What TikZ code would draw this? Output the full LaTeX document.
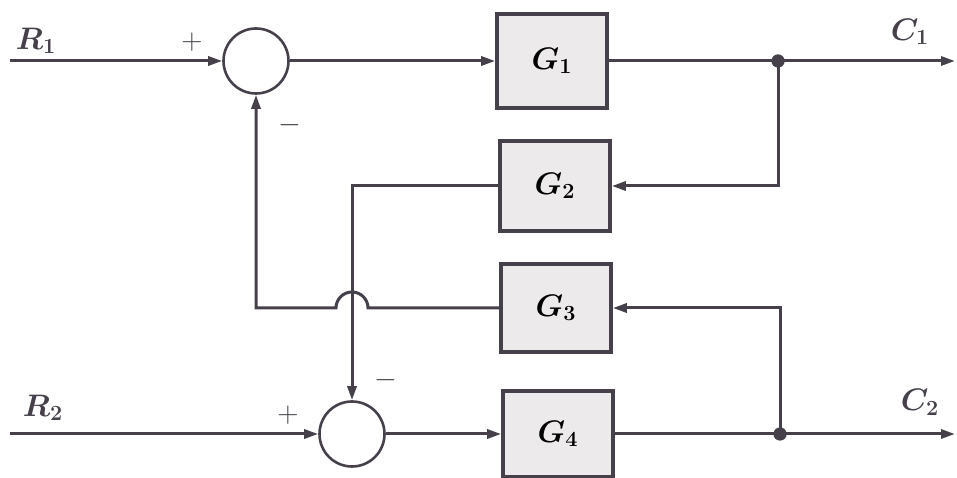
\documentclass[tikz,border=0pt]{standalone}
\usepackage{graphicx}
\usetikzlibrary{arrows.meta}
\definecolor{ln}{HTML}{46404A}
\definecolor{bx}{HTML}{ECEAEA}
\newcommand{\biglab}[1]{\scalebox{1.8}{\LARGE\boldmath$#1$}}
\newcommand{\sgn}[1]{\scalebox{1.7}{\LARGE$#1$}}
\begin{document}
\begin{tikzpicture}[x=1pt,y=1pt,
  blk/.style={draw=ln,line width=3.6pt,fill=bx,minimum width=110pt,minimum height=90pt,inner sep=0pt},
  sumj/.style={draw=ln,line width=2.6pt,circle,minimum size=65pt,inner sep=0pt},
  conn/.style={draw=ln,line width=3pt},
  arr/.style={conn,-{Triangle[length=14pt,width=9pt]}},
  dotn/.style={circle,fill=ln,minimum size=13pt,inner sep=0pt},
  lbl/.style={text=ln}]
\useasboundingbox (0,0) rectangle (957,478);
\node[sumj] (s1) at (256,417) {};
\node[sumj] (s2) at (352,44) {};
\node[blk,minimum height=94pt] (g1) at (552,417) {\biglab{G_1}};
\node[blk] (g2) at (555,292) {\biglab{G_2}};
\node[blk,minimum height=88pt] (g3) at (556,170) {\biglab{G_3}};
\node[blk,minimum height=86pt] (g4) at (558,44) {\biglab{G_4}};
\coordinate (r1) at (10,417);
\coordinate (r2) at (10,44);
\coordinate (c1) at (955,417);
\coordinate (c2) at (955,44);
\node[dotn] (d1) at (778,417) {};
\node[dotn] (d2) at (780,44) {};
\coordinate (hopr) at (368,170);
\coordinate (j1) at (256,170);
\coordinate (j2) at (352,292);
% forward paths
\draw[arr] (r1) -- (s1.west);
\draw[arr] (s1.east) -- (g1.west);
\draw[arr] (g1.east) -- (c1);
\draw[arr] (r2) -- (s2.west);
\draw[arr] (s2.east) -- (g4.west);
\draw[arr] (g4.east) -- (c2);
% feedback paths
\draw[arr] (d1.center) |- (g2.east);
\draw[arr] (d2.center) |- (g3.east);
\draw[arr] (g2.west) -- (j2) -- (s2.north);
\draw[arr] (g3.west) -- (hopr) arc[start angle=0,end angle=180,radius=16] -- (j1) -- (s1.south);
\node[dotn] at (d1) {};
\node[dotn] at (d2) {};
% labels
\node[lbl] (lr1) at (36,437) {\biglab{R_1}};
\node[lbl] (lr2) at (43,70) {\biglab{R_2}};
\node[lbl] (lc1) at (910,446) {\biglab{C_1}};
\node[lbl] (lc2) at (920,76) {\biglab{C_2}};
\node[lbl] (p1) at (192,436) {\sgn{+}};
\node[lbl] (m1) at (290,353) {\sgn{-}};
\node[lbl] (p2) at (288,63) {\sgn{+}};
\node[lbl] (m2) at (386,98) {\sgn{-}};
\end{tikzpicture}
\end{document}
